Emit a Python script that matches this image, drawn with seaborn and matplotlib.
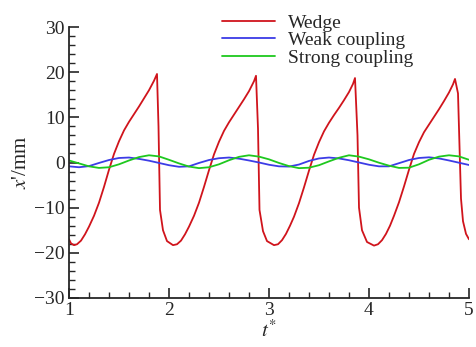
import matplotlib
matplotlib.use("Agg")
import matplotlib.pyplot as plt
from matplotlib.ticker import MultipleLocator
import seaborn as sns
import pandas as pd

# ---- data ----
series_names = ["Wedge", "Weak coupling", "Strong coupling"]

wedge_t = [1.00, 1.02, 1.05, 1.08, 1.12, 1.16, 1.20, 1.25, 1.30, 1.35, 1.40, 1.45, 1.50, 1.55,
           1.60, 1.65, 1.70, 1.75, 1.80, 1.85, 1.88, 1.895, 1.91, 1.94, 1.98, 2.04,
           2.08, 2.12, 2.16, 2.20, 2.25, 2.30, 2.35, 2.40, 2.45, 2.50, 2.55, 2.60, 2.65,
           2.70, 2.75, 2.80, 2.85, 2.87, 2.89, 2.905, 2.94, 2.98, 3.05,
           3.09, 3.13, 3.17, 3.21, 3.25, 3.30, 3.35, 3.40, 3.45, 3.50, 3.55, 3.60, 3.65,
           3.70, 3.75, 3.80, 3.84, 3.86, 3.885, 3.90, 3.93, 3.98, 4.05,
           4.09, 4.13, 4.17, 4.21, 4.25, 4.30, 4.35, 4.40, 4.45, 4.50, 4.55, 4.60, 4.65,
           4.70, 4.75, 4.80, 4.84, 4.86, 4.89, 4.92, 4.94, 4.97, 5.00]
wedge_x = [-17.0, -17.9, -18.3, -18.1, -17.3, -15.9, -14.2, -11.8, -8.9, -5.4, -1.6, 1.9, 4.7, 7.1,
           9.0, 10.7, 12.4, 14.2, 16.0, 18.1, 19.6, 8.0, -10.5, -15.0, -17.4, -18.3,
           -18.1, -17.3, -15.9, -14.2, -11.8, -8.9, -5.4, -1.7, 1.8, 4.6, 7.0, 8.9, 10.6,
           12.3, 14.0, 15.8, 18.0, 19.2, 7.5, -10.5, -15.2, -17.4, -18.3,
           -18.1, -17.2, -15.8, -14.0, -12.0, -9.0, -5.5, -1.8, 1.7, 4.5, 6.9, 8.8, 10.5,
           12.1, 13.8, 15.6, 17.4, 18.7, 6.0, -10.0, -15.0, -17.6, -18.4,
           -18.1, -17.2, -15.8, -14.0, -11.8, -8.8, -5.3, -1.6, 1.9, 4.5, 6.7, 8.4, 10.1,
           11.8, 13.6, 15.5, 17.3, 18.5, 15.3, -8.0, -13.0, -15.8, -17.0]

osc_t = [1.0, 1.1, 1.2, 1.3, 1.4, 1.5, 1.6, 1.7, 1.8, 1.9,
         2.0, 2.1, 2.2, 2.3, 2.4, 2.5, 2.6, 2.7, 2.8, 2.9,
         3.0, 3.1, 3.2, 3.3, 3.4, 3.5, 3.6, 3.7, 3.8, 3.9,
         4.0, 4.1, 4.2, 4.3, 4.4, 4.5, 4.6, 4.7, 4.8, 4.9, 5.0]
weak_x = [-0.85, -1.05, -0.8, -0.1, 0.55, 1.0, 1.1, 0.8, 0.4, -0.1,
          -0.6, -0.95, -0.85, -0.1, 0.55, 0.95, 1.1, 0.85, 0.45, 0.0,
          -0.5, -0.85, -0.9, -0.45, 0.35, 0.9, 1.1, 0.9, 0.5, 0.0,
          -0.5, -0.85, -0.85, -0.15, 0.55, 1.0, 1.15, 0.9, 0.45, -0.05, -0.55]
strong_x = [0.45, -0.2, -0.85, -1.2, -1.05, -0.4, 0.45, 1.2, 1.6, 1.35,
            0.6, -0.2, -0.9, -1.25, -1.05, -0.4, 0.5, 1.25, 1.6, 1.3,
            0.7, -0.1, -0.8, -1.25, -1.15, -0.6, 0.25, 1.05, 1.6, 1.3,
            0.7, -0.05, -0.7, -1.2, -1.15, -0.4, 0.6, 1.3, 1.6, 1.35, 0.6]

x_ticks = [1, 2, 3, 4, 5]
y_ticks = [-30, -20, -10, 0, 10, 20, 30]
colors = ["#d0141c", "#3c3ce6", "#1ec81e"]

# ---- build long table ----
frames = [
    pd.DataFrame({"t": wedge_t, "x": wedge_x, "series": series_names[0], "order": range(len(wedge_t))}),
    pd.DataFrame({"t": osc_t, "x": weak_x, "series": series_names[1], "order": range(len(osc_t))}),
    pd.DataFrame({"t": osc_t, "x": strong_x, "series": series_names[2], "order": range(len(osc_t))}),
]
df = pd.concat(frames, ignore_index=True)

sns.set_style("ticks")
plt.rcParams["font.family"] = ["Liberation Serif", "DejaVu Serif"]
plt.rcParams["mathtext.fontset"] = "stix"

fig = plt.figure(figsize=(4.76, 3.47), dpi=100)
ax = fig.add_axes([69 / 476, 1 - 298 / 347, 400 / 476, 271 / 347])

sns.lineplot(data=df, x="t", y="x", hue="series", hue_order=series_names,
             palette=colors, sort=False, estimator=None, linewidth=1.3, ax=ax)

ax.set_xlim(1, 5)
ax.set_ylim(-30, 30)
ax.set_xticks(x_ticks)
ax.set_yticks(y_ticks)
ax.set_xticklabels([str(v) for v in x_ticks])
ax.set_yticklabels([str(v) if v >= 0 else "\u2212" + str(-v) for v in y_ticks])
ax.xaxis.set_minor_locator(MultipleLocator(0.2))
ax.yaxis.set_minor_locator(MultipleLocator(2))
ax.tick_params(which="major", direction="in", length=7, width=1.2, labelsize=14, pad=3)
ax.tick_params(which="minor", direction="in", length=4, width=1.0)
for s in ["top", "right"]:
    ax.spines[s].set_visible(False)
for s in ["left", "bottom"]:
    ax.spines[s].set_linewidth(1.3)

ax.set_xlabel(r"$t^{*}$", fontsize=15, labelpad=1)
ax.set_ylabel(r"$x$'/mm", fontsize=15, labelpad=2)

handles, labels = ax.get_legend_handles_labels()
ax.legend(handles=handles, labels=labels, loc="upper left",
          bbox_to_anchor=(222 / 476, 1 - 14 / 347), bbox_transform=fig.transFigure,
          frameon=False, fontsize=14, handlelength=2.7, handletextpad=0.7,
          labelspacing=0.0, borderpad=0, borderaxespad=0)

fig.savefig("out.png", dpi=100)
